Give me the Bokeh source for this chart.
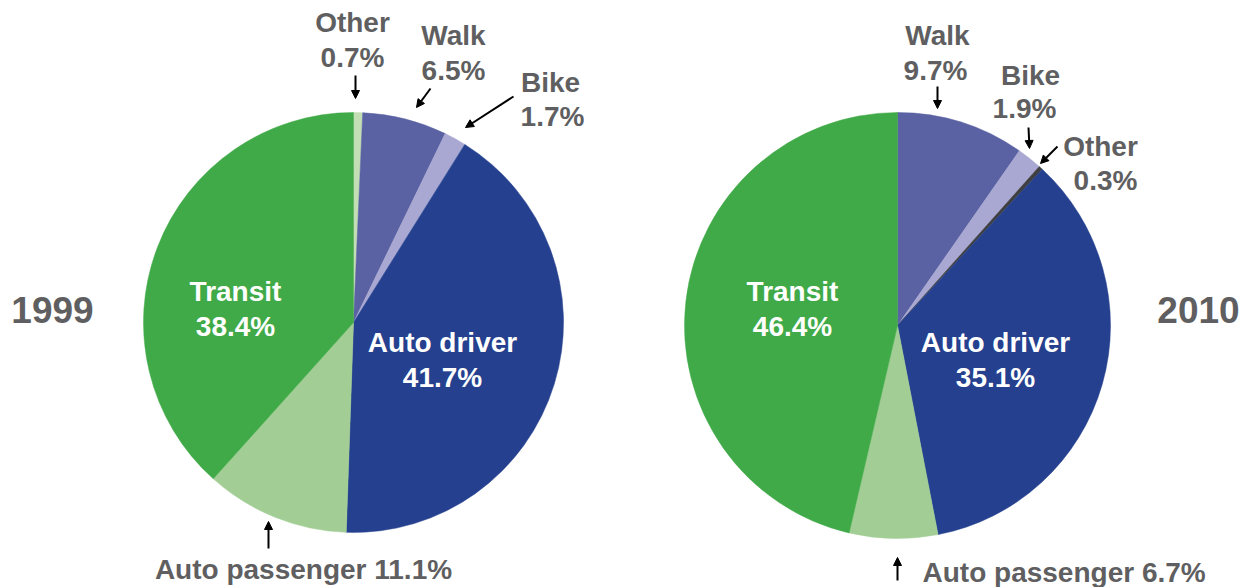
import numpy as np
from bokeh.plotting import figure
from bokeh.models import Range1d, ColumnDataSource, Arrow, NormalHead
from bokeh.core.properties import value
from bokeh.embed import file_html
from bokeh.resources import INLINE

# ---- data ----
years = ["1999", "2010"]
categories_1999 = ["Other", "Walk", "Bike", "Auto driver", "Auto passenger", "Transit"]
values_1999 = [0.7, 6.5, 1.7, 41.7, 11.1, 38.4]
categories_2010 = ["Walk", "Bike", "Other", "Auto driver", "Auto passenger", "Transit"]
values_2010 = [9.7, 1.9, 0.3, 35.1, 6.7, 46.4]

colors = {
    "Transit": "#41AA48",
    "Auto passenger": "#A2CE95",
    "Auto driver": "#24408E",
    "Walk": "#5A62A3",
    "Bike": "#A9A8D2",
}
other_colors = {"1999": "#C3DDB4", "2010": "#3F3F41"}

W, H = 1243, 587
FONT = value("Liberation Sans")
GRAY = "#5F5F61"


def Y(sy):
    return H - sy


p = figure(width=W, height=H, x_range=Range1d(0, W), y_range=Range1d(0, H),
           output_backend="svg", toolbar_location=None, min_border=0)
p.axis.visible = False
p.grid.visible = False
p.outline_line_color = None
p.background_fill_color = "white"


def pie(cx, cy, r, cats, vals, year):
    v = np.array(vals, dtype=float)
    frac = v / v.sum()
    cum = np.concatenate([[0], np.cumsum(frac)])
    start = np.pi / 2 - 2 * np.pi * cum[:-1]
    end = np.pi / 2 - 2 * np.pi * cum[1:]
    cols = [other_colors[year] if c == "Other" else colors[c] for c in cats]
    src = ColumnDataSource(dict(start=start, end=end, color=cols, cat=cats))
    p.wedge(x=cx, y=Y(cy), radius=r, start_angle="start", end_angle="end",
            direction="clock", fill_color="color", line_color="color",
            line_width=0.5, source=src)


pie(353, 322, 210, categories_1999, values_1999, "1999")
pie(897, 325, 213, categories_2010, values_2010, "2010")


def label(x, sy, txt, color=GRAY, size="28px", align="center"):
    p.text(x=[x], y=[Y(sy)], text=[txt], text_color=color, text_font=FONT,
           text_font_style="bold", text_font_size=size, text_align=align,
           text_baseline="middle")


def pct(v):
    return f"{v:.1f}%"


d99 = dict(zip(categories_1999, values_1999))
d10 = dict(zip(categories_2010, values_2010))

# 1999 labels
label(52, 309, years[0], size="37px")
label(352, 22, "Other"); label(352, 57, pct(d99["Other"]))
label(453, 35, "Walk"); label(453, 70, pct(d99["Walk"]))
label(550, 82, "Bike"); label(552, 116, pct(d99["Bike"]))
label(235, 291, "Transit", color="white"); label(235, 326, pct(d99["Transit"]), color="white")
label(442, 342, "Auto driver", color="white"); label(442, 377, pct(d99["Auto driver"]), color="white")
label(303, 569, "Auto passenger " + pct(d99["Auto passenger"]))

# 2010 labels
label(1198, 309, years[1], size="37px")
label(937, 35, "Walk"); label(935, 70, pct(d10["Walk"]))
label(1030, 75, "Bike"); label(1024, 108, pct(d10["Bike"]))
label(1100, 146, "Other"); label(1105, 180, pct(d10["Other"]))
label(792, 291, "Transit", color="white"); label(792, 326, pct(d10["Transit"]), color="white")
label(995, 342, "Auto driver", color="white"); label(995, 377, pct(d10["Auto driver"]), color="white")
label(922, 572, "Auto passenger " + pct(d10["Auto passenger"]), align="left")


def arrow(x0, y0, x1, y1):
    p.add_layout(Arrow(x_start=x0, y_start=Y(y0), x_end=x1, y_end=Y(y1),
                       line_color="black", line_width=2,
                       end=NormalHead(size=8, fill_color="black", line_color="black")))


arrow(355, 75, 355, 98)
arrow(430, 88, 416, 107)
arrow(513, 96, 465, 127)
arrow(268, 548, 268, 521)
arrow(937, 86, 937, 108)
arrow(1028, 127, 1029, 148)
arrow(1057, 146, 1040, 163)
arrow(897, 580, 897, 557)

open("out.html", "w").write(file_html(p, INLINE))
